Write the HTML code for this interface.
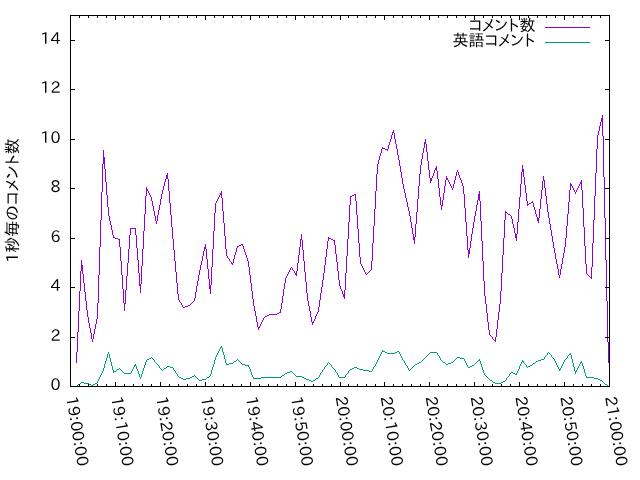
<!DOCTYPE html>
<html lang="ja"><head><meta charset="utf-8"><title>1秒毎のコメント数</title>
<style>html,body{margin:0;padding:0;background:#fff;width:640px;height:480px;overflow:hidden}svg{display:block;will-change:transform}text{font-family:"IPAPGothic","Liberation Sans","IPAGothic","Noto Sans CJK JP",sans-serif;font-size:16px;fill:#000}</style>
</head><body>
<svg width="640" height="480" viewBox="0 0 640 480">
<rect width="640" height="480" fill="#fff"/>
<g shape-rendering="crispEdges">
<path fill="#9400d3" d="M76 352h1v11h-1zM77 332h1v20h-1zM78 311h1v21h-1zM79 291h1v20h-1zM80 271h1v20h-1zM81 260h1v11h-1zM82 265h1v9h-1zM83 274h1v9h-1zM84 283h1v9h-1zM85 292h1v9h-1zM86 301h1v9h-1zM87 310h1v7h-1zM88 317h1v6h-1zM89 323h1v5h-1zM90 328h1v5h-1zM91 333h1v6h-1zM92 339h1v3h-1zM93 334h1v5h-1zM94 329h1v5h-1zM95 324h1v5h-1zM96 319h1v5h-1zM97 303h1v16h-1zM98 275h1v28h-1zM99 247h1v28h-1zM100 220h1v27h-1zM101 192h1v28h-1zM102 164h1v28h-1zM103 150h1v14h-1zM104 157h1v12h-1zM105 169h1v13h-1zM106 182h1v13h-1zM107 195h1v12h-1zM108 207h1v9h-1zM109 216h1v5h-1zM110 221h1v4h-1zM111 225h1v5h-1zM112 230h1v5h-1zM113 235h1v3h-1zM114 237h1v1h-1zM115 238h1v1h-1zM116 238h1v1h-1zM117 238h1v1h-1zM118 239h1v1h-1zM119 239h1v8h-1zM120 247h1v14h-1zM121 261h1v14h-1zM122 275h1v14h-1zM123 289h1v14h-1zM124 303h1v8h-1zM125 290h1v14h-1zM126 276h1v14h-1zM127 263h1v13h-1zM128 249h1v14h-1zM129 235h1v14h-1zM130 228h1v7h-1zM131 228h1v1h-1zM132 228h1v1h-1zM133 228h1v1h-1zM134 228h1v1h-1zM135 228h1v7h-1zM136 235h1v13h-1zM137 248h1v12h-1zM138 260h1v13h-1zM139 273h1v13h-1zM140 284h1v9h-1zM141 266h1v18h-1zM142 249h1v17h-1zM143 231h1v18h-1zM144 214h1v17h-1zM145 196h1v18h-1zM146 187h1v9h-1zM147 189h1v2h-1zM148 191h1v2h-1zM149 193h1v2h-1zM150 195h1v2h-1zM151 197h1v4h-1zM152 201h1v5h-1zM153 206h1v5h-1zM154 211h1v5h-1zM155 216h1v5h-1zM156 221h1v3h-1zM157 215h1v6h-1zM158 210h1v5h-1zM159 205h1v5h-1zM160 199h1v6h-1zM161 194h1v5h-1zM162 190h1v4h-1zM163 186h1v4h-1zM164 182h1v4h-1zM165 179h1v3h-1zM166 175h1v4h-1zM167 173h1v6h-1zM168 179h1v12h-1zM169 191h1v12h-1zM170 203h1v12h-1zM171 215h1v12h-1zM172 227h1v12h-1zM173 239h1v11h-1zM174 250h1v11h-1zM175 261h1v11h-1zM176 272h1v11h-1zM177 283h1v11h-1zM178 294h1v6h-1zM179 300h1v2h-1zM180 302h1v1h-1zM181 303h1v2h-1zM182 305h1v2h-1zM183 307h1v1h-1zM184 307h1v1h-1zM185 306h1v1h-1zM186 306h1v1h-1zM187 306h1v1h-1zM188 305h1v1h-1zM189 305h1v1h-1zM190 304h1v1h-1zM191 303h1v1h-1zM192 302h1v1h-1zM193 301h1v1h-1zM194 298h1v3h-1zM195 292h1v6h-1zM196 286h1v6h-1zM197 281h1v5h-1zM198 275h1v6h-1zM199 270h1v5h-1zM200 265h1v5h-1zM201 261h1v4h-1zM202 256h1v5h-1zM203 251h1v5h-1zM204 247h1v4h-1zM205 244h1v5h-1zM206 249h1v10h-1zM207 259h1v10h-1zM208 269h1v10h-1zM209 279h1v10h-1zM210 285h1v9h-1zM211 267h1v18h-1zM212 249h1v18h-1zM213 231h1v18h-1zM214 213h1v18h-1zM215 203h1v10h-1zM216 201h1v2h-1zM217 199h1v2h-1zM218 197h1v2h-1zM219 195h1v2h-1zM220 193h1v2h-1zM221 191h1v7h-1zM222 198h1v13h-1zM223 211h1v12h-1zM224 223h1v13h-1zM225 236h1v13h-1zM226 249h1v7h-1zM227 256h1v2h-1zM228 258h1v1h-1zM229 259h1v2h-1zM230 261h1v1h-1zM231 262h1v2h-1zM232 263h1v2h-1zM233 259h1v4h-1zM234 255h1v4h-1zM235 252h1v3h-1zM236 248h1v4h-1zM237 246h1v2h-1zM238 246h1v1h-1zM239 245h1v1h-1zM240 245h1v1h-1zM241 244h1v1h-1zM242 244h1v2h-1zM243 246h1v3h-1zM244 249h1v3h-1zM245 252h1v3h-1zM246 255h1v3h-1zM247 258h1v3h-1zM248 261h1v6h-1zM249 267h1v8h-1zM250 275h1v8h-1zM251 283h1v8h-1zM252 291h1v8h-1zM253 299h1v7h-1zM254 306h1v5h-1zM255 311h1v5h-1zM256 316h1v6h-1zM257 322h1v5h-1zM258 327h1v3h-1zM259 326h1v2h-1zM260 324h1v2h-1zM261 322h1v2h-1zM262 320h1v2h-1zM263 318h1v2h-1zM264 317h1v1h-1zM265 316h1v1h-1zM266 316h1v1h-1zM267 315h1v1h-1zM268 315h1v1h-1zM269 314h1v1h-1zM270 314h1v1h-1zM271 314h1v1h-1zM272 314h1v1h-1zM273 314h1v1h-1zM274 314h1v1h-1zM275 314h1v1h-1zM276 314h1v1h-1zM277 313h1v1h-1zM278 313h1v1h-1zM279 312h1v1h-1zM280 309h1v4h-1zM281 303h1v6h-1zM282 296h1v7h-1zM283 289h1v7h-1zM284 283h1v6h-1zM285 278h1v5h-1zM286 276h1v2h-1zM287 274h1v2h-1zM288 272h1v2h-1zM289 270h1v2h-1zM290 268h1v2h-1zM291 267h1v1h-1zM292 268h1v2h-1zM293 270h1v1h-1zM294 271h1v2h-1zM295 273h1v2h-1zM296 271h1v5h-1zM297 263h1v8h-1zM298 255h1v8h-1zM299 247h1v8h-1zM300 239h1v8h-1zM301 234h1v6h-1zM302 240h1v10h-1zM303 250h1v11h-1zM304 261h1v11h-1zM305 272h1v10h-1zM306 282h1v11h-1zM307 293h1v8h-1zM308 301h1v5h-1zM309 306h1v5h-1zM310 311h1v6h-1zM311 317h1v5h-1zM312 322h1v3h-1zM313 321h1v2h-1zM314 319h1v2h-1zM315 316h1v3h-1zM316 314h1v2h-1zM317 312h1v2h-1zM318 307h1v5h-1zM319 300h1v7h-1zM320 293h1v7h-1zM321 287h1v6h-1zM322 280h1v7h-1zM323 273h1v7h-1zM324 265h1v8h-1zM325 257h1v8h-1zM326 249h1v8h-1zM327 241h1v8h-1zM328 237h1v4h-1zM329 238h1v1h-1zM330 238h1v1h-1zM331 239h1v1h-1zM332 239h1v1h-1zM333 240h1v1h-1zM334 240h1v5h-1zM335 245h1v9h-1zM336 254h1v8h-1zM337 262h1v9h-1zM338 271h1v9h-1zM339 280h1v6h-1zM340 286h1v3h-1zM341 289h1v2h-1zM342 291h1v3h-1zM343 294h1v3h-1zM344 290h1v9h-1zM345 273h1v17h-1zM346 256h1v17h-1zM347 239h1v17h-1zM348 222h1v17h-1zM349 205h1v17h-1zM350 196h1v9h-1zM351 196h1v1h-1zM352 195h1v1h-1zM353 195h1v1h-1zM354 194h1v1h-1zM355 194h1v7h-1zM356 201h1v14h-1zM357 215h1v14h-1zM358 229h1v14h-1zM359 243h1v14h-1zM360 257h1v7h-1zM361 264h1v2h-1zM362 266h1v2h-1zM363 268h1v2h-1zM364 270h1v2h-1zM365 272h1v2h-1zM366 274h1v1h-1zM367 273h1v1h-1zM368 272h1v1h-1zM369 271h1v1h-1zM370 270h1v1h-1zM371 261h1v9h-1zM372 243h1v18h-1zM373 226h1v17h-1zM374 209h1v17h-1zM375 191h1v18h-1zM376 174h1v17h-1zM377 164h1v10h-1zM378 160h1v4h-1zM379 156h1v4h-1zM380 153h1v3h-1zM381 149h1v4h-1zM382 147h1v2h-1zM383 148h1v1h-1zM384 148h1v1h-1zM385 149h1v1h-1zM386 149h1v1h-1zM387 149h1v2h-1zM388 145h1v4h-1zM389 142h1v3h-1zM390 139h1v3h-1zM391 135h1v4h-1zM392 132h1v3h-1zM393 130h1v3h-1zM394 133h1v6h-1zM395 139h1v5h-1zM396 144h1v5h-1zM397 149h1v6h-1zM398 155h1v5h-1zM399 160h1v6h-1zM400 166h1v6h-1zM401 172h1v6h-1zM402 178h1v6h-1zM403 184h1v5h-1zM404 189h1v4h-1zM405 193h1v5h-1zM406 198h1v4h-1zM407 202h1v5h-1zM408 207h1v4h-1zM409 211h1v5h-1zM410 216h1v6h-1zM411 222h1v6h-1zM412 228h1v6h-1zM413 234h1v6h-1zM414 237h1v7h-1zM415 224h1v13h-1zM416 212h1v12h-1zM417 199h1v13h-1zM418 186h1v13h-1zM419 174h1v12h-1zM420 165h1v9h-1zM421 159h1v6h-1zM422 153h1v6h-1zM423 148h1v5h-1zM424 142h1v6h-1zM425 139h1v5h-1zM426 144h1v8h-1zM427 152h1v9h-1zM428 161h1v9h-1zM429 170h1v8h-1zM430 178h1v5h-1zM431 178h1v3h-1zM432 176h1v2h-1zM433 173h1v3h-1zM434 170h1v3h-1zM435 168h1v2h-1zM436 166h1v5h-1zM437 171h1v8h-1zM438 179h1v9h-1zM439 188h1v9h-1zM440 197h1v8h-1zM441 205h1v5h-1zM442 200h1v6h-1zM443 193h1v7h-1zM444 186h1v7h-1zM445 180h1v6h-1zM446 176h1v4h-1zM447 178h1v2h-1zM448 180h1v2h-1zM449 182h1v2h-1zM450 184h1v2h-1zM451 186h1v2h-1zM452 188h1v2h-1zM453 184h1v4h-1zM454 180h1v4h-1zM455 176h1v4h-1zM456 172h1v4h-1zM457 170h1v2h-1zM458 172h1v3h-1zM459 175h1v3h-1zM460 178h1v2h-1zM461 180h1v3h-1zM462 183h1v3h-1zM463 186h1v8h-1zM464 194h1v14h-1zM465 208h1v14h-1zM466 222h1v14h-1zM467 236h1v14h-1zM468 250h1v8h-1zM469 248h1v6h-1zM470 241h1v7h-1zM471 234h1v7h-1zM472 228h1v6h-1zM473 222h1v6h-1zM474 216h1v6h-1zM475 211h1v5h-1zM476 205h1v6h-1zM477 200h1v5h-1zM478 194h1v6h-1zM479 191h1v10h-1zM480 201h1v20h-1zM481 221h1v20h-1zM482 241h1v20h-1zM483 261h1v20h-1zM484 281h1v15h-1zM485 296h1v8h-1zM486 304h1v9h-1zM487 313h1v9h-1zM488 322h1v8h-1zM489 330h1v5h-1zM490 335h1v1h-1zM491 336h1v1h-1zM492 337h1v2h-1zM493 339h1v1h-1zM494 340h1v1h-1zM495 337h1v5h-1zM496 329h1v8h-1zM497 320h1v9h-1zM498 312h1v8h-1zM499 304h1v8h-1zM500 291h1v13h-1zM501 273h1v18h-1zM502 255h1v18h-1zM503 238h1v17h-1zM504 220h1v18h-1zM505 211h1v9h-1zM506 212h1v1h-1zM507 213h1v1h-1zM508 214h1v1h-1zM509 214h1v1h-1zM510 215h1v1h-1zM511 216h1v3h-1zM512 219h1v5h-1zM513 224h1v4h-1zM514 228h1v5h-1zM515 233h1v5h-1zM516 234h1v7h-1zM517 222h1v12h-1zM518 209h1v13h-1zM519 197h1v12h-1zM520 184h1v13h-1zM521 172h1v12h-1zM522 165h1v7h-1zM523 169h1v8h-1zM524 177h1v8h-1zM525 185h1v8h-1zM526 193h1v8h-1zM527 201h1v5h-1zM528 204h1v1h-1zM529 203h1v1h-1zM530 203h1v1h-1zM531 202h1v1h-1zM532 201h1v2h-1zM533 203h1v4h-1zM534 207h1v3h-1zM535 210h1v4h-1zM536 214h1v3h-1zM537 217h1v4h-1zM538 218h1v5h-1zM539 209h1v9h-1zM540 199h1v10h-1zM541 190h1v9h-1zM542 181h1v9h-1zM543 176h1v5h-1zM544 180h1v8h-1zM545 188h1v8h-1zM546 196h1v8h-1zM547 204h1v8h-1zM548 212h1v6h-1zM549 218h1v6h-1zM550 224h1v6h-1zM551 230h1v6h-1zM552 236h1v6h-1zM553 242h1v6h-1zM554 248h1v5h-1zM555 253h1v6h-1zM556 259h1v5h-1zM557 264h1v5h-1zM558 269h1v6h-1zM559 275h1v3h-1zM560 269h1v6h-1zM561 264h1v5h-1zM562 258h1v6h-1zM563 253h1v5h-1zM564 247h1v6h-1zM565 238h1v9h-1zM566 226h1v12h-1zM567 214h1v12h-1zM568 202h1v12h-1zM569 190h1v12h-1zM570 183h1v7h-1zM571 184h1v2h-1zM572 186h1v2h-1zM573 188h1v2h-1zM574 190h1v2h-1zM575 192h1v2h-1zM576 190h1v2h-1zM577 188h1v2h-1zM578 186h1v2h-1zM579 184h1v2h-1zM580 182h1v2h-1zM581 180h1v10h-1zM582 190h1v18h-1zM583 208h1v19h-1zM584 227h1v19h-1zM585 246h1v18h-1zM586 264h1v10h-1zM587 274h1v1h-1zM588 275h1v1h-1zM589 276h1v1h-1zM590 277h1v1h-1zM591 267h1v12h-1zM592 243h1v24h-1zM593 220h1v23h-1zM594 196h1v24h-1zM595 173h1v23h-1zM596 149h1v24h-1zM597 135h1v14h-1zM598 131h1v4h-1zM599 126h1v5h-1zM600 122h1v4h-1zM601 118h1v4h-1zM602 115h1v21h-1zM603 136h1v41h-1zM604 177h1v41h-1zM605 218h1v42h-1zM606 260h1v41h-1zM607 301h1v41h-1zM608 342h1v21h-1z"/>
<path fill="#009e73" d="M76 386h1v1h-1zM77 385h1v1h-1zM78 384h1v1h-1zM79 384h1v1h-1zM80 383h1v1h-1zM81 382h1v1h-1zM82 382h1v1h-1zM83 382h1v1h-1zM84 383h1v1h-1zM85 383h1v1h-1zM86 383h1v1h-1zM87 383h1v1h-1zM88 383h1v1h-1zM89 384h1v1h-1zM90 384h1v1h-1zM91 385h1v1h-1zM92 385h1v1h-1zM93 384h1v1h-1zM94 384h1v1h-1zM95 383h1v1h-1zM96 383h1v1h-1zM97 381h1v2h-1zM98 379h1v2h-1zM99 377h1v2h-1zM100 375h1v2h-1zM101 373h1v2h-1zM102 371h1v2h-1zM103 368h1v3h-1zM104 364h1v4h-1zM105 361h1v3h-1zM106 358h1v3h-1zM107 354h1v4h-1zM108 352h1v2h-1zM109 354h1v4h-1zM110 358h1v4h-1zM111 362h1v4h-1zM112 366h1v4h-1zM113 370h1v3h-1zM114 371h1v1h-1zM115 371h1v1h-1zM116 370h1v1h-1zM117 369h1v1h-1zM118 369h1v1h-1zM119 368h1v1h-1zM120 369h1v1h-1zM121 370h1v1h-1zM122 371h1v1h-1zM123 372h1v1h-1zM124 373h1v1h-1zM125 373h1v1h-1zM126 373h1v1h-1zM127 373h1v1h-1zM128 373h1v1h-1zM129 373h1v1h-1zM130 373h1v1h-1zM131 371h1v2h-1zM132 369h1v2h-1zM133 367h1v2h-1zM134 365h1v2h-1zM135 364h1v2h-1zM136 366h1v3h-1zM137 369h1v2h-1zM138 371h1v3h-1zM139 374h1v3h-1zM140 377h1v2h-1zM141 374h1v3h-1zM142 371h1v3h-1zM143 368h1v3h-1zM144 365h1v3h-1zM145 362h1v3h-1zM146 360h1v2h-1zM147 359h1v1h-1zM148 359h1v1h-1zM149 358h1v1h-1zM150 358h1v1h-1zM151 357h1v1h-1zM152 358h1v1h-1zM153 359h1v1h-1zM154 360h1v2h-1zM155 362h1v1h-1zM156 363h1v1h-1zM157 364h1v1h-1zM158 365h1v1h-1zM159 366h1v2h-1zM160 368h1v1h-1zM161 369h1v1h-1zM162 370h1v1h-1zM163 369h1v1h-1zM164 368h1v1h-1zM165 368h1v1h-1zM166 367h1v1h-1zM167 366h1v1h-1zM168 366h1v1h-1zM169 366h1v1h-1zM170 367h1v1h-1zM171 367h1v1h-1zM172 367h1v1h-1zM173 368h1v2h-1zM174 370h1v1h-1zM175 371h1v2h-1zM176 373h1v1h-1zM177 374h1v2h-1zM178 376h1v1h-1zM179 377h1v1h-1zM180 377h1v1h-1zM181 378h1v1h-1zM182 378h1v1h-1zM183 379h1v1h-1zM184 379h1v1h-1zM185 379h1v1h-1zM186 378h1v1h-1zM187 378h1v1h-1zM188 378h1v1h-1zM189 378h1v1h-1zM190 377h1v1h-1zM191 377h1v1h-1zM192 376h1v1h-1zM193 376h1v1h-1zM194 375h1v1h-1zM195 376h1v1h-1zM196 377h1v1h-1zM197 378h1v1h-1zM198 379h1v1h-1zM199 380h1v1h-1zM200 380h1v1h-1zM201 380h1v1h-1zM202 379h1v1h-1zM203 379h1v1h-1zM204 379h1v1h-1zM205 379h1v1h-1zM206 378h1v1h-1zM207 377h1v1h-1zM208 377h1v1h-1zM209 376h1v1h-1zM210 374h1v2h-1zM211 370h1v4h-1zM212 367h1v3h-1zM213 364h1v3h-1zM214 360h1v4h-1zM215 357h1v3h-1zM216 355h1v2h-1zM217 353h1v2h-1zM218 351h1v2h-1zM219 349h1v2h-1zM220 347h1v2h-1zM221 346h1v2h-1zM222 348h1v4h-1zM223 352h1v3h-1zM224 355h1v4h-1zM225 359h1v4h-1zM226 363h1v2h-1zM227 364h1v1h-1zM228 364h1v1h-1zM229 363h1v1h-1zM230 363h1v1h-1zM231 363h1v1h-1zM232 363h1v1h-1zM233 362h1v1h-1zM234 361h1v1h-1zM235 361h1v1h-1zM236 360h1v1h-1zM237 359h1v1h-1zM238 360h1v1h-1zM239 361h1v1h-1zM240 362h1v1h-1zM241 363h1v1h-1zM242 364h1v1h-1zM243 364h1v1h-1zM244 364h1v1h-1zM245 365h1v1h-1zM246 365h1v1h-1zM247 365h1v1h-1zM248 365h1v2h-1zM249 367h1v2h-1zM250 369h1v3h-1zM251 372h1v3h-1zM252 375h1v2h-1zM253 377h1v2h-1zM254 378h1v1h-1zM255 378h1v1h-1zM256 378h1v1h-1zM257 378h1v1h-1zM258 378h1v1h-1zM259 378h1v1h-1zM260 378h1v1h-1zM261 377h1v1h-1zM262 377h1v1h-1zM263 377h1v1h-1zM264 377h1v1h-1zM265 377h1v1h-1zM266 377h1v1h-1zM267 377h1v1h-1zM268 377h1v1h-1zM269 377h1v1h-1zM270 377h1v1h-1zM271 377h1v1h-1zM272 377h1v1h-1zM273 377h1v1h-1zM274 377h1v1h-1zM275 377h1v1h-1zM276 377h1v1h-1zM277 377h1v1h-1zM278 377h1v1h-1zM279 377h1v1h-1zM280 377h1v1h-1zM281 376h1v1h-1zM282 375h1v1h-1zM283 375h1v1h-1zM284 374h1v1h-1zM285 373h1v1h-1zM286 373h1v1h-1zM287 372h1v1h-1zM288 372h1v1h-1zM289 372h1v1h-1zM290 371h1v1h-1zM291 371h1v1h-1zM292 372h1v1h-1zM293 373h1v1h-1zM294 374h1v1h-1zM295 375h1v1h-1zM296 376h1v1h-1zM297 376h1v1h-1zM298 376h1v1h-1zM299 376h1v1h-1zM300 376h1v1h-1zM301 376h1v1h-1zM302 377h1v1h-1zM303 377h1v1h-1zM304 378h1v1h-1zM305 378h1v1h-1zM306 379h1v1h-1zM307 379h1v1h-1zM308 379h1v1h-1zM309 380h1v1h-1zM310 380h1v1h-1zM311 381h1v1h-1zM312 381h1v1h-1zM313 380h1v1h-1zM314 380h1v1h-1zM315 379h1v1h-1zM316 378h1v1h-1zM317 378h1v1h-1zM318 377h1v1h-1zM319 375h1v2h-1zM320 373h1v2h-1zM321 372h1v1h-1zM322 370h1v2h-1zM323 369h1v1h-1zM324 367h1v2h-1zM325 366h1v1h-1zM326 365h1v1h-1zM327 363h1v2h-1zM328 362h1v1h-1zM329 363h1v1h-1zM330 364h1v1h-1zM331 365h1v2h-1zM332 367h1v1h-1zM333 368h1v1h-1zM334 369h1v1h-1zM335 370h1v2h-1zM336 372h1v1h-1zM337 373h1v2h-1zM338 375h1v2h-1zM339 377h1v1h-1zM340 377h1v1h-1zM341 377h1v1h-1zM342 377h1v1h-1zM343 377h1v1h-1zM344 377h1v1h-1zM345 375h1v2h-1zM346 374h1v1h-1zM347 373h1v1h-1zM348 371h1v2h-1zM349 370h1v1h-1zM350 369h1v1h-1zM351 369h1v1h-1zM352 368h1v1h-1zM353 368h1v1h-1zM354 367h1v1h-1zM355 367h1v1h-1zM356 367h1v1h-1zM357 368h1v1h-1zM358 368h1v1h-1zM359 369h1v1h-1zM360 369h1v1h-1zM361 369h1v1h-1zM362 369h1v1h-1zM363 370h1v1h-1zM364 370h1v1h-1zM365 370h1v1h-1zM366 370h1v1h-1zM367 370h1v1h-1zM368 370h1v1h-1zM369 371h1v1h-1zM370 371h1v1h-1zM371 371h1v1h-1zM372 369h1v2h-1zM373 367h1v2h-1zM374 366h1v1h-1zM375 364h1v2h-1zM376 362h1v2h-1zM377 360h1v2h-1zM378 358h1v2h-1zM379 356h1v2h-1zM380 354h1v2h-1zM381 352h1v2h-1zM382 350h1v2h-1zM383 351h1v1h-1zM384 351h1v1h-1zM385 352h1v1h-1zM386 352h1v1h-1zM387 353h1v1h-1zM388 353h1v1h-1zM389 353h1v1h-1zM390 353h1v1h-1zM391 353h1v1h-1zM392 353h1v1h-1zM393 353h1v1h-1zM394 353h1v1h-1zM395 352h1v1h-1zM396 352h1v1h-1zM397 351h1v1h-1zM398 351h1v1h-1zM399 352h1v2h-1zM400 354h1v2h-1zM401 356h1v2h-1zM402 358h1v2h-1zM403 360h1v1h-1zM404 361h1v2h-1zM405 363h1v2h-1zM406 365h1v1h-1zM407 366h1v2h-1zM408 368h1v2h-1zM409 370h1v1h-1zM410 369h1v1h-1zM411 368h1v1h-1zM412 367h1v1h-1zM413 366h1v1h-1zM414 365h1v1h-1zM415 364h1v1h-1zM416 364h1v1h-1zM417 363h1v1h-1zM418 363h1v1h-1zM419 362h1v1h-1zM420 362h1v1h-1zM421 361h1v1h-1zM422 360h1v1h-1zM423 359h1v1h-1zM424 358h1v1h-1zM425 357h1v1h-1zM426 356h1v1h-1zM427 355h1v1h-1zM428 354h1v1h-1zM429 353h1v1h-1zM430 352h1v1h-1zM431 352h1v1h-1zM432 352h1v1h-1zM433 352h1v1h-1zM434 352h1v1h-1zM435 352h1v1h-1zM436 352h1v1h-1zM437 353h1v2h-1zM438 355h1v1h-1zM439 356h1v2h-1zM440 358h1v2h-1zM441 360h1v1h-1zM442 361h1v1h-1zM443 362h1v1h-1zM444 362h1v1h-1zM445 363h1v1h-1zM446 364h1v1h-1zM447 364h1v1h-1zM448 363h1v1h-1zM449 363h1v1h-1zM450 363h1v1h-1zM451 362h1v1h-1zM452 362h1v1h-1zM453 361h1v1h-1zM454 360h1v1h-1zM455 359h1v1h-1zM456 358h1v1h-1zM457 357h1v1h-1zM458 357h1v1h-1zM459 357h1v1h-1zM460 358h1v1h-1zM461 358h1v1h-1zM462 358h1v1h-1zM463 358h1v1h-1zM464 359h1v2h-1zM465 361h1v2h-1zM466 363h1v2h-1zM467 365h1v2h-1zM468 367h1v1h-1zM469 367h1v1h-1zM470 366h1v1h-1zM471 366h1v1h-1zM472 365h1v1h-1zM473 365h1v1h-1zM474 364h1v1h-1zM475 363h1v1h-1zM476 362h1v1h-1zM477 361h1v1h-1zM478 360h1v1h-1zM479 359h1v2h-1zM480 361h1v3h-1zM481 364h1v3h-1zM482 367h1v3h-1zM483 370h1v3h-1zM484 373h1v2h-1zM485 375h1v1h-1zM486 376h1v1h-1zM487 377h1v1h-1zM488 378h1v1h-1zM489 379h1v1h-1zM490 380h1v1h-1zM491 380h1v1h-1zM492 381h1v1h-1zM493 382h1v1h-1zM494 382h1v1h-1zM495 383h1v1h-1zM496 383h1v1h-1zM497 383h1v1h-1zM498 383h1v1h-1zM499 383h1v1h-1zM500 383h1v1h-1zM501 382h1v1h-1zM502 382h1v1h-1zM503 381h1v1h-1zM504 381h1v1h-1zM505 380h1v1h-1zM506 378h1v2h-1zM507 377h1v1h-1zM508 376h1v1h-1zM509 374h1v2h-1zM510 373h1v1h-1zM511 372h1v1h-1zM512 372h1v1h-1zM513 373h1v1h-1zM514 373h1v1h-1zM515 374h1v1h-1zM516 373h1v2h-1zM517 371h1v2h-1zM518 369h1v2h-1zM519 366h1v3h-1zM520 364h1v2h-1zM521 362h1v2h-1zM522 360h1v2h-1zM523 361h1v2h-1zM524 363h1v1h-1zM525 364h1v1h-1zM526 365h1v2h-1zM527 367h1v1h-1zM528 366h1v1h-1zM529 366h1v1h-1zM530 365h1v1h-1zM531 365h1v1h-1zM532 364h1v1h-1zM533 363h1v1h-1zM534 363h1v1h-1zM535 362h1v1h-1zM536 361h1v1h-1zM537 361h1v1h-1zM538 360h1v1h-1zM539 360h1v1h-1zM540 360h1v1h-1zM541 359h1v1h-1zM542 359h1v1h-1zM543 359h1v1h-1zM544 357h1v2h-1zM545 356h1v1h-1zM546 355h1v1h-1zM547 353h1v2h-1zM548 352h1v1h-1zM549 353h1v1h-1zM550 354h1v1h-1zM551 355h1v2h-1zM552 357h1v1h-1zM553 358h1v1h-1zM554 359h1v2h-1zM555 361h1v2h-1zM556 363h1v2h-1zM557 365h1v2h-1zM558 367h1v2h-1zM559 369h1v2h-1zM560 368h1v2h-1zM561 366h1v2h-1zM562 364h1v2h-1zM563 362h1v2h-1zM564 360h1v2h-1zM565 359h1v1h-1zM566 358h1v1h-1zM567 356h1v2h-1zM568 355h1v1h-1zM569 354h1v1h-1zM570 353h1v2h-1zM571 355h1v4h-1zM572 359h1v4h-1zM573 363h1v4h-1zM574 367h1v4h-1zM575 371h1v3h-1zM576 370h1v2h-1zM577 368h1v2h-1zM578 366h1v2h-1zM579 364h1v2h-1zM580 362h1v2h-1zM581 361h1v2h-1zM582 363h1v3h-1zM583 366h1v3h-1zM584 369h1v4h-1zM585 373h1v3h-1zM586 376h1v2h-1zM587 377h1v1h-1zM588 377h1v1h-1zM589 377h1v1h-1zM590 377h1v1h-1zM591 377h1v1h-1zM592 377h1v1h-1zM593 377h1v1h-1zM594 378h1v1h-1zM595 378h1v1h-1zM596 378h1v1h-1zM597 378h1v1h-1zM598 379h1v1h-1zM599 379h1v1h-1zM600 380h1v1h-1zM601 380h1v1h-1zM602 381h1v1h-1zM603 382h1v1h-1zM604 383h1v1h-1zM605 384h1v1h-1zM606 384h1v1h-1zM607 385h1v1h-1zM608 386h1v1h-1z"/>
</g>
<g shape-rendering="crispEdges">
<rect x="545" y="27" width="45" height="1" fill="#9400d3"/>
<rect x="545" y="42" width="45" height="1" fill="#009e73"/>
<g fill="#000">
<rect x="70" y="15" width="1" height="372"/>
<rect x="609" y="15" width="1" height="372"/>
<rect x="70" y="15" width="540" height="1"/>
<rect x="70" y="386" width="540" height="1"/>
<rect x="70" y="15" width="1" height="5"/>
<rect x="70" y="382" width="1" height="5"/>
<rect x="79" y="15" width="1" height="3"/>
<rect x="79" y="384" width="1" height="3"/>
<rect x="88" y="15" width="1" height="3"/>
<rect x="88" y="384" width="1" height="3"/>
<rect x="97" y="15" width="1" height="3"/>
<rect x="97" y="384" width="1" height="3"/>
<rect x="106" y="15" width="1" height="3"/>
<rect x="106" y="384" width="1" height="3"/>
<rect x="115" y="15" width="1" height="5"/>
<rect x="115" y="382" width="1" height="5"/>
<rect x="124" y="15" width="1" height="3"/>
<rect x="124" y="384" width="1" height="3"/>
<rect x="133" y="15" width="1" height="3"/>
<rect x="133" y="384" width="1" height="3"/>
<rect x="142" y="15" width="1" height="3"/>
<rect x="142" y="384" width="1" height="3"/>
<rect x="151" y="15" width="1" height="3"/>
<rect x="151" y="384" width="1" height="3"/>
<rect x="160" y="15" width="1" height="5"/>
<rect x="160" y="382" width="1" height="5"/>
<rect x="169" y="15" width="1" height="3"/>
<rect x="169" y="384" width="1" height="3"/>
<rect x="178" y="15" width="1" height="3"/>
<rect x="178" y="384" width="1" height="3"/>
<rect x="187" y="15" width="1" height="3"/>
<rect x="187" y="384" width="1" height="3"/>
<rect x="196" y="15" width="1" height="3"/>
<rect x="196" y="384" width="1" height="3"/>
<rect x="205" y="15" width="1" height="5"/>
<rect x="205" y="382" width="1" height="5"/>
<rect x="214" y="15" width="1" height="3"/>
<rect x="214" y="384" width="1" height="3"/>
<rect x="223" y="15" width="1" height="3"/>
<rect x="223" y="384" width="1" height="3"/>
<rect x="232" y="15" width="1" height="3"/>
<rect x="232" y="384" width="1" height="3"/>
<rect x="241" y="15" width="1" height="3"/>
<rect x="241" y="384" width="1" height="3"/>
<rect x="250" y="15" width="1" height="5"/>
<rect x="250" y="382" width="1" height="5"/>
<rect x="259" y="15" width="1" height="3"/>
<rect x="259" y="384" width="1" height="3"/>
<rect x="268" y="15" width="1" height="3"/>
<rect x="268" y="384" width="1" height="3"/>
<rect x="277" y="15" width="1" height="3"/>
<rect x="277" y="384" width="1" height="3"/>
<rect x="286" y="15" width="1" height="3"/>
<rect x="286" y="384" width="1" height="3"/>
<rect x="295" y="15" width="1" height="5"/>
<rect x="295" y="382" width="1" height="5"/>
<rect x="304" y="15" width="1" height="3"/>
<rect x="304" y="384" width="1" height="3"/>
<rect x="313" y="15" width="1" height="3"/>
<rect x="313" y="384" width="1" height="3"/>
<rect x="322" y="15" width="1" height="3"/>
<rect x="322" y="384" width="1" height="3"/>
<rect x="331" y="15" width="1" height="3"/>
<rect x="331" y="384" width="1" height="3"/>
<rect x="340" y="15" width="1" height="5"/>
<rect x="340" y="382" width="1" height="5"/>
<rect x="348" y="15" width="1" height="3"/>
<rect x="348" y="384" width="1" height="3"/>
<rect x="357" y="15" width="1" height="3"/>
<rect x="357" y="384" width="1" height="3"/>
<rect x="366" y="15" width="1" height="3"/>
<rect x="366" y="384" width="1" height="3"/>
<rect x="375" y="15" width="1" height="3"/>
<rect x="375" y="384" width="1" height="3"/>
<rect x="384" y="15" width="1" height="5"/>
<rect x="384" y="382" width="1" height="5"/>
<rect x="393" y="15" width="1" height="3"/>
<rect x="393" y="384" width="1" height="3"/>
<rect x="402" y="15" width="1" height="3"/>
<rect x="402" y="384" width="1" height="3"/>
<rect x="411" y="15" width="1" height="3"/>
<rect x="411" y="384" width="1" height="3"/>
<rect x="420" y="15" width="1" height="3"/>
<rect x="420" y="384" width="1" height="3"/>
<rect x="429" y="15" width="1" height="5"/>
<rect x="429" y="382" width="1" height="5"/>
<rect x="438" y="15" width="1" height="3"/>
<rect x="438" y="384" width="1" height="3"/>
<rect x="447" y="15" width="1" height="3"/>
<rect x="447" y="384" width="1" height="3"/>
<rect x="456" y="15" width="1" height="3"/>
<rect x="456" y="384" width="1" height="3"/>
<rect x="465" y="15" width="1" height="3"/>
<rect x="465" y="384" width="1" height="3"/>
<rect x="474" y="15" width="1" height="5"/>
<rect x="474" y="382" width="1" height="5"/>
<rect x="483" y="15" width="1" height="3"/>
<rect x="483" y="384" width="1" height="3"/>
<rect x="492" y="15" width="1" height="3"/>
<rect x="492" y="384" width="1" height="3"/>
<rect x="501" y="15" width="1" height="3"/>
<rect x="501" y="384" width="1" height="3"/>
<rect x="510" y="15" width="1" height="3"/>
<rect x="510" y="384" width="1" height="3"/>
<rect x="519" y="15" width="1" height="5"/>
<rect x="519" y="382" width="1" height="5"/>
<rect x="528" y="15" width="1" height="3"/>
<rect x="528" y="384" width="1" height="3"/>
<rect x="537" y="15" width="1" height="3"/>
<rect x="537" y="384" width="1" height="3"/>
<rect x="546" y="15" width="1" height="3"/>
<rect x="546" y="384" width="1" height="3"/>
<rect x="555" y="15" width="1" height="3"/>
<rect x="555" y="384" width="1" height="3"/>
<rect x="564" y="15" width="1" height="5"/>
<rect x="564" y="382" width="1" height="5"/>
<rect x="573" y="15" width="1" height="3"/>
<rect x="573" y="384" width="1" height="3"/>
<rect x="582" y="15" width="1" height="3"/>
<rect x="582" y="384" width="1" height="3"/>
<rect x="591" y="15" width="1" height="3"/>
<rect x="591" y="384" width="1" height="3"/>
<rect x="600" y="15" width="1" height="3"/>
<rect x="600" y="384" width="1" height="3"/>
<rect x="609" y="15" width="1" height="5"/>
<rect x="609" y="382" width="1" height="5"/>
<rect x="70" y="386" width="5" height="1"/>
<rect x="605" y="386" width="5" height="1"/>
<rect x="70" y="337" width="5" height="1"/>
<rect x="605" y="337" width="5" height="1"/>
<rect x="70" y="287" width="5" height="1"/>
<rect x="605" y="287" width="5" height="1"/>
<rect x="70" y="238" width="5" height="1"/>
<rect x="605" y="238" width="5" height="1"/>
<rect x="70" y="188" width="5" height="1"/>
<rect x="605" y="188" width="5" height="1"/>
<rect x="70" y="139" width="5" height="1"/>
<rect x="605" y="139" width="5" height="1"/>
<rect x="70" y="89" width="5" height="1"/>
<rect x="605" y="89" width="5" height="1"/>
<rect x="70" y="40" width="5" height="1"/>
<rect x="605" y="40" width="5" height="1"/>
</g></g>
<text x="60.5" y="390" text-anchor="end" textLength="10.08" lengthAdjust="spacingAndGlyphs">0</text>
<text x="60.5" y="341" text-anchor="end" textLength="10.08" lengthAdjust="spacingAndGlyphs">2</text>
<text x="60.5" y="291" text-anchor="end" textLength="10.08" lengthAdjust="spacingAndGlyphs">4</text>
<text x="60.5" y="242" text-anchor="end" textLength="10.08" lengthAdjust="spacingAndGlyphs">6</text>
<text x="60.5" y="192" text-anchor="end" textLength="10.08" lengthAdjust="spacingAndGlyphs">8</text>
<text x="60.5" y="143" text-anchor="end" textLength="20.16" lengthAdjust="spacingAndGlyphs">10</text>
<text x="60.5" y="93" text-anchor="end" textLength="20.16" lengthAdjust="spacingAndGlyphs">12</text>
<text x="60.5" y="44" text-anchor="end" textLength="20.16" lengthAdjust="spacingAndGlyphs">14</text>
<text transform="translate(66.1,397.2) rotate(80.6)" textLength="70.7" lengthAdjust="spacingAndGlyphs">19:00:00</text>
<text transform="translate(111.0,397.2) rotate(80.6)" textLength="70.7" lengthAdjust="spacingAndGlyphs">19:10:00</text>
<text transform="translate(155.9,397.2) rotate(80.6)" textLength="70.7" lengthAdjust="spacingAndGlyphs">19:20:00</text>
<text transform="translate(200.8,397.2) rotate(80.6)" textLength="70.7" lengthAdjust="spacingAndGlyphs">19:30:00</text>
<text transform="translate(245.8,397.2) rotate(80.6)" textLength="70.7" lengthAdjust="spacingAndGlyphs">19:40:00</text>
<text transform="translate(290.7,397.2) rotate(80.6)" textLength="70.7" lengthAdjust="spacingAndGlyphs">19:50:00</text>
<text transform="translate(335.6,397.2) rotate(80.6)" textLength="70.7" lengthAdjust="spacingAndGlyphs">20:00:00</text>
<text transform="translate(380.5,397.2) rotate(80.6)" textLength="70.7" lengthAdjust="spacingAndGlyphs">20:10:00</text>
<text transform="translate(425.4,397.2) rotate(80.6)" textLength="70.7" lengthAdjust="spacingAndGlyphs">20:20:00</text>
<text transform="translate(470.4,397.2) rotate(80.6)" textLength="70.7" lengthAdjust="spacingAndGlyphs">20:30:00</text>
<text transform="translate(515.3,397.2) rotate(80.6)" textLength="70.7" lengthAdjust="spacingAndGlyphs">20:40:00</text>
<text transform="translate(560.2,397.2) rotate(80.6)" textLength="70.7" lengthAdjust="spacingAndGlyphs">20:50:00</text>
<text transform="translate(605.1,397.2) rotate(80.6)" textLength="70.7" lengthAdjust="spacingAndGlyphs">21:00:00</text>
<text x="535.5" y="31" text-anchor="end" textLength="67.05" lengthAdjust="spacingAndGlyphs">コメント数</text>
<text x="535.5" y="46" text-anchor="end" textLength="83.05" lengthAdjust="spacingAndGlyphs">英語コメント</text>
<text transform="translate(17.5,200.5) rotate(-90)" text-anchor="middle" textLength="124.64" lengthAdjust="spacingAndGlyphs">1秒毎のコメント数</text>
</svg></body></html>
